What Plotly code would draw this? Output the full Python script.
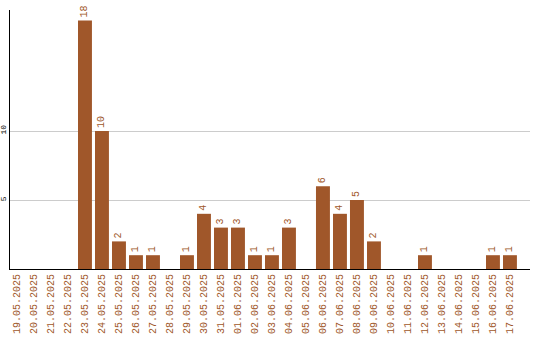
import plotly.graph_objects as go

dates = ["19.05.2025","20.05.2025","21.05.2025","22.05.2025","23.05.2025","24.05.2025",
         "25.05.2025","26.05.2025","27.05.2025","28.05.2025","29.05.2025","30.05.2025",
         "31.05.2025","01.06.2025","02.06.2025","03.06.2025","04.06.2025","05.06.2025",
         "06.06.2025","07.06.2025","08.06.2025","09.06.2025","10.06.2025","11.06.2025",
         "12.06.2025","13.06.2025","14.06.2025","15.06.2025","16.06.2025","17.06.2025"]
values = [0,0,0,0,18,10,2,1,1,0,1,4,3,3,1,1,3,0,6,4,5,2,0,0,1,0,0,0,1,1]
ytick_vals = [5, 10]

color = "#A0572A"
labels = [str(v) if v else "" for v in values]
mono = "Liberation Mono"

fig = go.Figure(go.Bar(
    x=list(range(len(dates))), y=values, marker=dict(color=color, line=dict(width=0)),
    text=labels, textposition="outside", textangle=-90, cliponaxis=False,
    textfont=dict(family=mono, size=10, color=color),
    hoverinfo="skip",
))
fig.update_layout(
    width=540, height=340, margin=dict(l=10, r=10, t=10, b=71),
    plot_bgcolor="white", paper_bgcolor="white", showlegend=False, bargap=0.18,
    uniformtext=dict(mode=False),
)
fig.update_xaxes(
    range=[-0.41, 30.18], tickvals=list(range(len(dates))), ticktext=dates,
    tickangle=-90, tickfont=dict(family=mono, size=10, color=color),
    showline=True, linecolor="black", linewidth=1, showgrid=False, ticks="", zeroline=False,
    automargin=False,
)
fig.update_yaxes(
    range=[0, 18.77], tickvals=ytick_vals, ticktext=[str(v) for v in ytick_vals],
    tickangle=-90, tickfont=dict(family=mono, size=8, color="black"),
    showline=True, linecolor="black", linewidth=1, showgrid=True, gridcolor="#cccccc",
    gridwidth=1, ticks="", zeroline=False, automargin=False,
)
fig.write_html("out.html")
